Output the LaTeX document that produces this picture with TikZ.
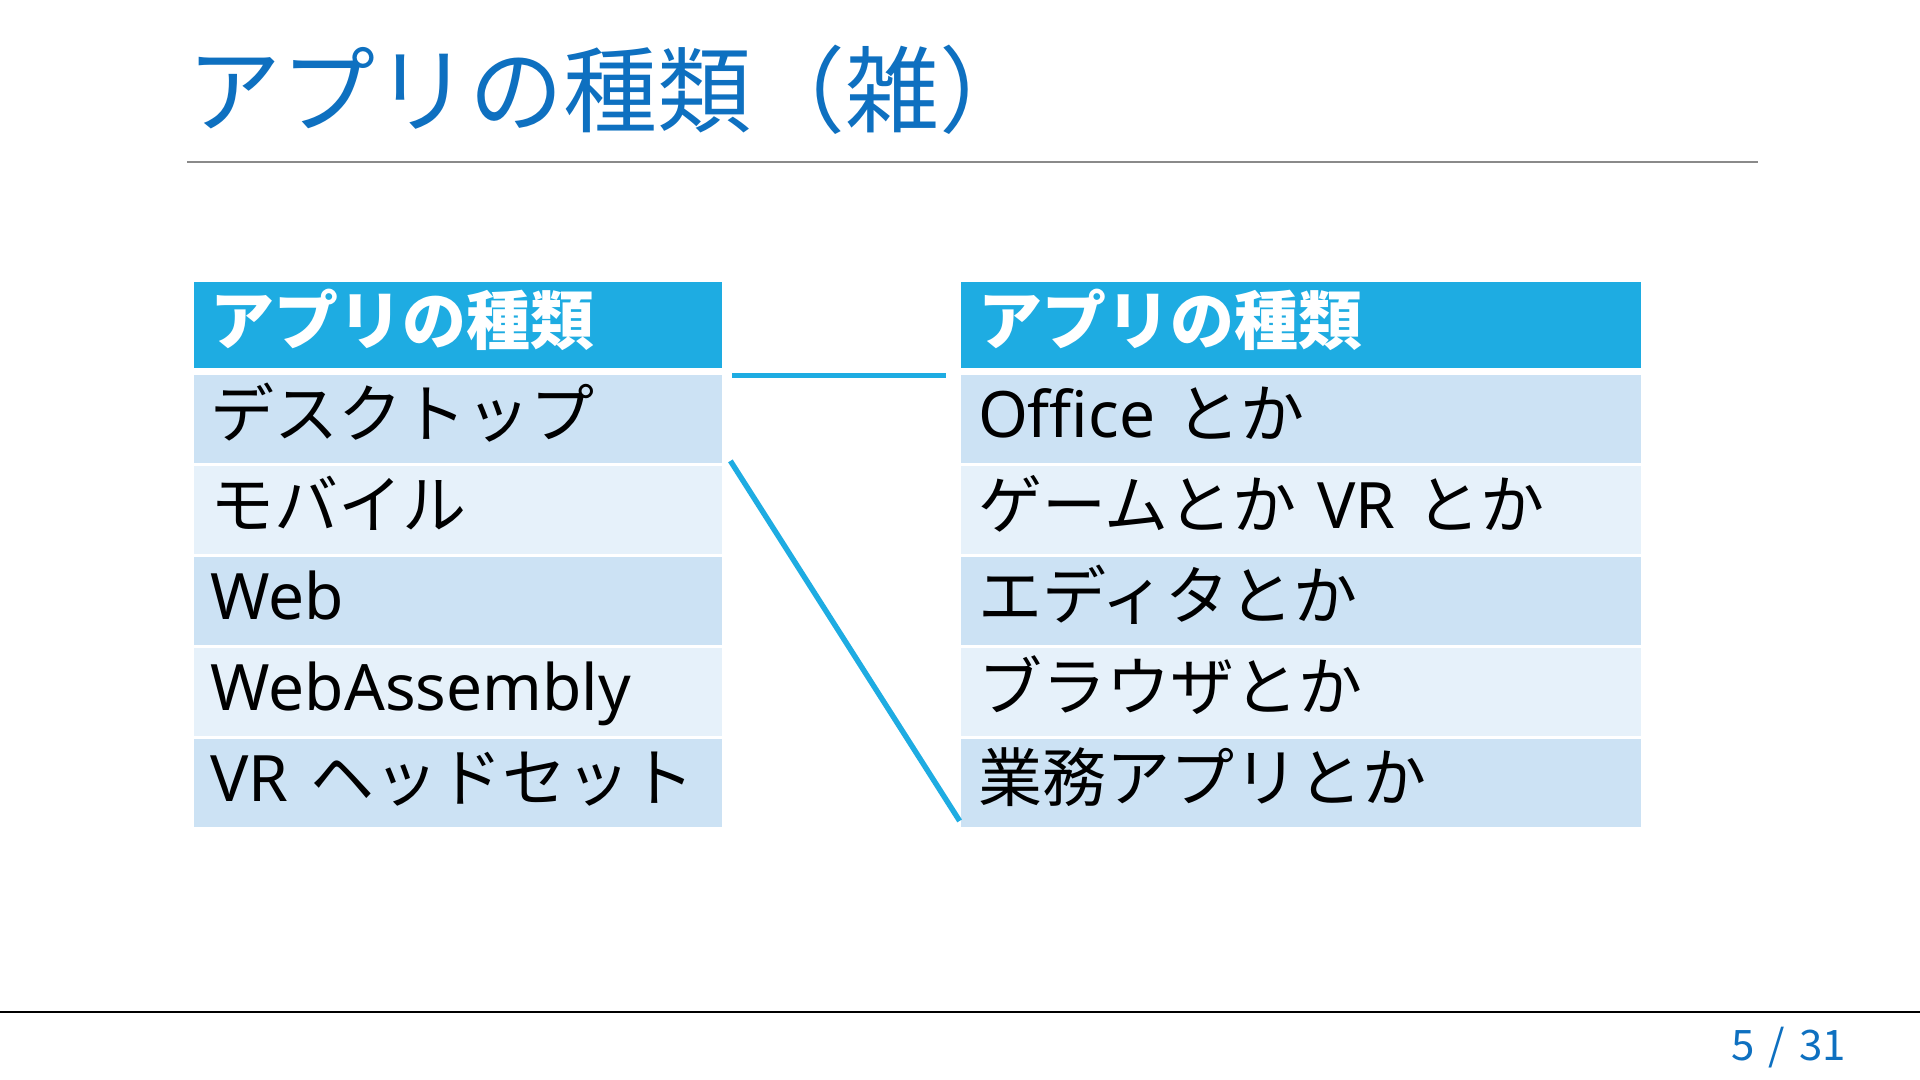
\documentclass[tikz,border=0pt]{standalone}
\usepackage{fontspec}
\setmainfont{Noto Sans CJK JP}
\newfontfamily\lat{Noto Sans}
\usetikzlibrary{calc}
\definecolor{titleblue}{HTML}{0E70C0}
\definecolor{headblue}{HTML}{1EACE2}
\definecolor{rowdark}{HTML}{CCE2F4}
\definecolor{rowlight}{HTML}{E6F1FA}
\definecolor{rulegray}{HTML}{8A8A8A}
\tikzset{
  cell/.style={rectangle, inner xsep=8.5pt, inner ysep=0pt, text height=25pt, text depth=6pt,
    align=left, font=\fontsize{32}{38}\selectfont, text=black},
  lcell/.style={cell, minimum width=264.25pt, text width=247.25pt},
  rcell/.style={cell, minimum width=340pt, text width=323pt},
  headcell/.style={fill=headblue, minimum height=43pt, text=white, font=\fontsize{32}{38}\selectfont\bfseries},
  darkrow/.style={fill=rowdark, minimum height=44pt},
  lightrow/.style={fill=rowlight, minimum height=44pt},
  conn/.style={draw=headblue, line width=2.7pt},
}
\begin{document}
\begin{tikzpicture}[x=0.5pt, y=-0.5pt]
\useasboundingbox[fill=white] (0,0) rectangle (1920,1080);
% title
\node[anchor=base west, inner sep=0pt, text=titleblue, font=\fontsize{47}{55}\selectfont] (title) at (187,126) {アプリの種類（雑）};
\draw[rulegray, line width=0.75pt] (187,162) coordinate (r0) -- (1758,162) coordinate (r1);
% left table
\node[lcell, headcell] (LH) at (457.75,325) {アプリの種類};
\node[lcell, darkrow]  (L1) at (457.75,418.5) {デスクトップ};
\node[lcell, lightrow] (L2) at (457.75,509.5) {モバイル};
\node[lcell, darkrow]  (L3) at (457.75,600.5) {\lat Web};
\node[lcell, lightrow] (L4) at (457.75,691.5) {\lat WebAssembly};
\node[lcell, darkrow]  (L5) at (457.75,782.5) {{\lat VR} ヘッドセット};
% right table
\node[rcell, headcell] (RH) at (1301,325) {アプリの種類};
\node[rcell, darkrow]  (R1) at (1301,418.5) {{\lat Office} とか};
\node[rcell, lightrow] (R2) at (1301,509.5) {ゲームとか{\lat\ VR} とか};
\node[rcell, darkrow]  (R3) at (1301,600.5) {エディタとか};
\node[rcell, lightrow] (R4) at (1301,691.5) {ブラウザとか};
\node[rcell, darkrow]  (R5) at (1301,782.5) {業務アプリとか};
% connectors
\draw[conn] ($(LH.south east)+(10,7)$) -- ($(RH.south west)+(-15,7)$);
\draw[conn] ($(L1.south east)+(8,-2)$) -- ($(R5.south west)+(-1,-6)$);
% footer
\draw[black, line width=1pt] (0,1012) coordinate (f0) -- (1920,1012) coordinate (f1);
\node[anchor=base west, inner sep=0pt, text=titleblue, font=\fontsize{21}{25}\selectfont] (page) at (1731,1060) {5\hspace{7pt}/\hspace{7pt}31};
\end{tikzpicture}
\end{document}
